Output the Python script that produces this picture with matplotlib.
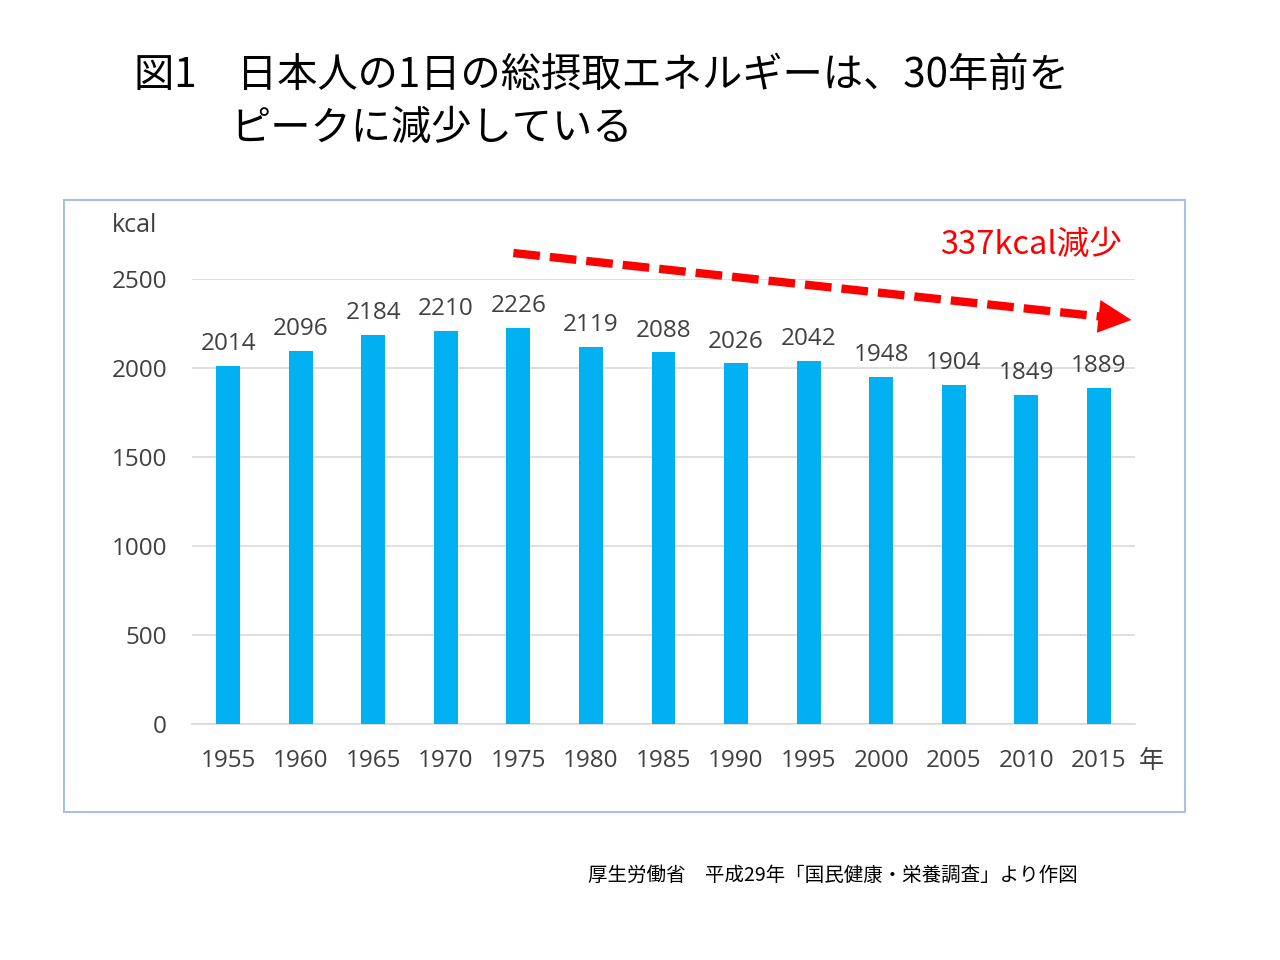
import matplotlib.pyplot as plt
from matplotlib.patches import Rectangle

plt.rcParams['font.family'] = ['Noto Sans CJK JP', 'DejaVu Sans']

# 国民健康・栄養調査 総摂取エネルギー
years = ['1955', '1960', '1965', '1970', '1975', '1980', '1985',
         '1990', '1995', '2000', '2005', '2010', '2015']
kcal = [2014, 2096, 2184, 2210, 2226, 2119, 2088,
        2026, 2042, 1948, 1904, 1849, 1889]
yticks = [0, 500, 1000, 1500, 2000, 2500]

bar_color = '#00b0f0'
text_color = '#404040'

fig = plt.figure(figsize=(12.8, 9.6), dpi=100)

# outer frame of the chart area
fig.patches.append(Rectangle((64 / 1280, 1 - 812 / 960), 1121 / 1280, 612 / 960,
                             transform=fig.transFigure, fill=False,
                             edgecolor='#a9bfe3', linewidth=1.5))

ax = fig.add_axes([192 / 1280, 1 - 724 / 960, 943 / 1280, 445 / 960])
x = range(len(years))
bars = ax.bar(x, kcal, width=0.33, color=bar_color, zorder=3)
for b, v in zip(bars, kcal):
    ax.text(b.get_x() + b.get_width() / 2, v + 55, str(v), ha='center', va='bottom',
            fontsize=17.5, color=text_color, family='Open Sans')

ax.set_xlim(-0.5, len(years) - 0.5)
ax.set_ylim(0, 2500)
ax.set_yticks(yticks)
ax.set_yticklabels([str(t) for t in yticks], family='Open Sans')
ax.set_xticks(list(x))
ax.set_xticklabels(years, family='Open Sans')
ax.tick_params(axis='both', length=0, labelsize=17.5, labelcolor=text_color)
ax.tick_params(axis='y', pad=18)
ax.tick_params(axis='x', pad=18)
ax.grid(axis='y', color='#d9d9d9', linewidth=1.2, zorder=0)
for s in ['top', 'right', 'left']:
    ax.spines[s].set_visible(False)
ax.spines['bottom'].set_color('#d9d9d9')
ax.spines['bottom'].set_linewidth(1.2)

# trend arrow: dashed shaft plus a solid head
start, end = (3.93, 2646), (12.45, 2270)
t = 0.95
mid = (start[0] + t * (end[0] - start[0]), start[1] + t * (end[1] - start[1]))
ax.annotate('', xy=mid, xytext=start,
            arrowprops=dict(arrowstyle='-', color='#ff0000', lw=6,
                            linestyle=(0, (3.2, 1.2)), capstyle='butt',
                            shrinkA=0, shrinkB=0),
            annotation_clip=False)
ax.annotate('', xy=end, xytext=mid,
            arrowprops=dict(arrowstyle='-|>,head_length=1.4,head_width=0.7',
                            color='#ff0000', lw=6, capstyle='butt',
                            joinstyle='miter', shrinkA=0, shrinkB=0),
            annotation_clip=False)
fig.text(1031 / 1280, 1 - 245 / 960, '337kcal減少', ha='center', va='center',
         fontsize=23.5, color='#ff0000')

fig.text(135 / 1280, 1 - 226 / 960, 'kcal', ha='center', va='center',
         fontsize=18, color=text_color, family='Open Sans')
fig.text(1151 / 1280, 1 - 761 / 960, '年', ha='center', va='center',
         fontsize=18, color=text_color)

# title
fig.text(134 / 1280, 1 - 75 / 960, '図1　日本人の1日の総摂取エネルギーは、30年前を',
         ha='left', va='center', fontsize=29, color='black')
fig.text(230 / 1280, 1 - 128 / 960, 'ピークに減少している',
         ha='left', va='center', fontsize=29, color='black')

fig.text(1078 / 1280, 1 - 875 / 960, '厚生労働省　平成29年「国民健康・栄養調査」より作図',
         ha='right', va='center', fontsize=14, color='black')

fig.savefig('out.png', dpi=100)
